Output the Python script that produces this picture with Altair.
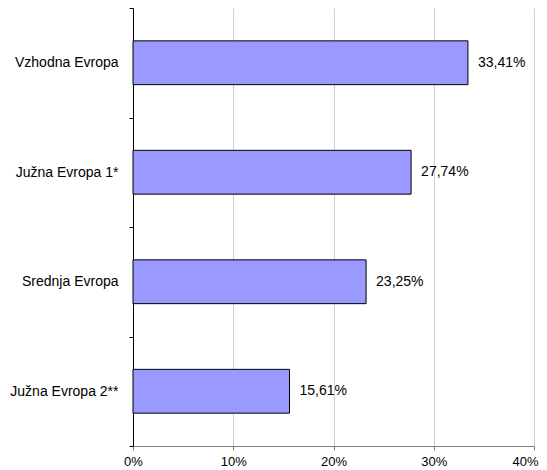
import altair as alt
import pandas as pd

categories = ["Vzhodna Evropa", "Južna Evropa 1*", "Srednja Evropa", "Južna Evropa 2**"]
values = [33.41, 27.74, 23.25, 15.61]
labels = ["33,41%", "27,74%", "23,25%", "15,61%"]

df = pd.DataFrame({"cat": categories, "val": [v / 100 for v in values], "lab": labels})

y = alt.Y("cat:N", sort=categories, title=None,
          scale=alt.Scale(paddingInner=0, paddingOuter=0),
          axis=alt.Axis(tickBand="extent", domainColor="black", tickColor="black",
                        tickSize=4, labelPadding=11, labelFontSize=14,
                        labelFont="Liberation Sans", labelColor="black", grid=False))
x = alt.X("val:Q", title=None,
          scale=alt.Scale(domain=[0, 0.4], nice=False, zero=True),
          axis=alt.Axis(format=".0%", values=[0, 0.1, 0.2, 0.3, 0.4], grid=True,
                        gridColor="#d0d0d0", domainColor="#808080", tickColor="#808080",
                        tickSize=4, labelPadding=5, labelFontSize=13, labelFlush=False,
                        labelOffset={"condition": {"test": "datum.value >= 0.39", "value": -9}, "value": 0},
                        labelFont="Liberation Sans", labelColor="black"))

bars = alt.Chart(df).mark_bar(height={"band": 0.4}, fill="#9999FF", stroke="black",
                              strokeWidth=1).encode(x=x, y=y)
text = alt.Chart(df).mark_text(align="left", dx=10, fontSize=14, font="Liberation Sans",
                               color="black").encode(x="val:Q", y=alt.Y("cat:N", sort=categories), text="lab:N")

chart = (bars + text).properties(
    width=401, height=438,
    autosize=alt.AutoSizeParams(type="none"),
    padding={"left": 125, "top": 0, "right": 5, "bottom": 23},
).configure_view(stroke=None)

chart.save("out.html", embed_options={"renderer": "svg", "actions": False})
